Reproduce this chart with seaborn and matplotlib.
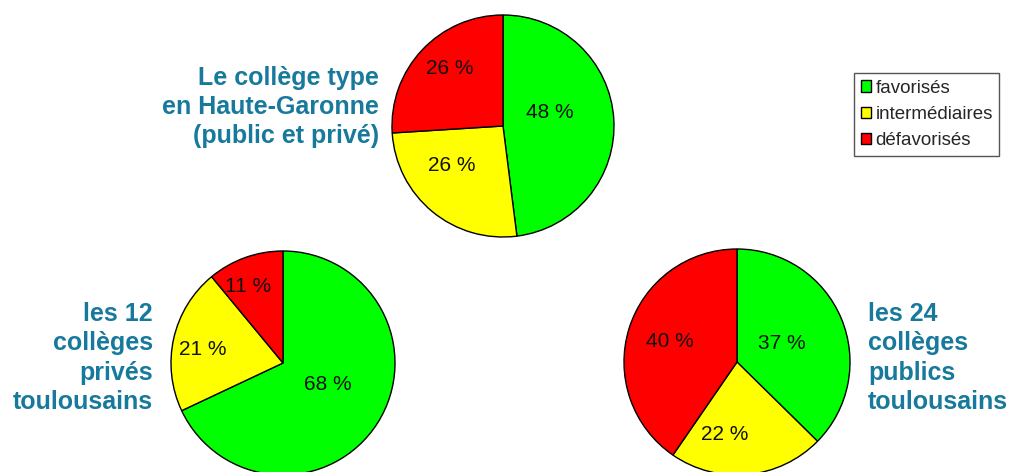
import numpy as np
import matplotlib
matplotlib.use("Agg")
import matplotlib.pyplot as plt
import seaborn as sns
from matplotlib.patches import Patch

# ====== DATA ======
categories = ["favorisés", "intermédiaires", "défavorisés"]
haute_garonne = [48, 26, 26]
prives_toulouse = [68, 21, 11]
publics_toulouse = [37, 22, 40]

title_haute_garonne = "Le collège type\nen Haute-Garonne\n(public et privé)"
title_prives = "les 12\ncollèges\nprivés\ntoulousains"
title_publics = "les 24\ncollèges\npublics\ntoulousains"

colors = ["#00ff00", "#ffff00", "#ff0000"]
title_color = "#17799b"

W, H = 1012, 472

sns.set_theme(style="white")
plt.rcParams['font.family'] = ['Liberation Sans', 'DejaVu Sans']

fig = plt.figure(figsize=(W / 100, H / 100), dpi=100)
ax = fig.add_axes([0, 0, 1, 1])

# pies: values, centre (pixels, y from top), radius,
# label distance per slice, label angle nudge per slice (degrees)
pies = [
    (haute_garonne, (503, 126), 111, [0.44, 0.585, 0.70], [13, -13, -4]),
    (prives_toulouse, (283, 363), 112, [0.44, 0.73, 0.75], [7, 3, 5]),
    (publics_toulouse, (737, 362), 113, [0.43, 0.65, 0.62], [0, -15, 0]),
]

for values, (cx, cy), r, dists, nudges in pies:
    wedges, _ = ax.pie(values, colors=colors, startangle=90, counterclock=False,
                       center=(cx, H - cy), radius=r, frame=True,
                       wedgeprops=dict(edgecolor="black", linewidth=1))
    for w, v, d, n in zip(wedges, values, dists, nudges):
        ang = np.deg2rad((w.theta1 + w.theta2) / 2 + n)
        ax.text(cx + d * r * np.cos(ang), H - cy + d * r * np.sin(ang), f"{v} %",
                ha="center", va="center", fontsize=15, color="#111111")

ax.set_xlim(0, W)
ax.set_ylim(0, H)
ax.set_axis_off()

# titles
title_kw = dict(fontsize=18, fontweight="bold", color=title_color, linespacing=1.27)
ax.text(379, H - 107, title_haute_garonne, ha="right", va="center", **title_kw)
ax.text(153, H - 358, title_prives, ha="right", va="center", **title_kw)
ax.text(868, H - 358, title_publics, ha="left", va="center", **title_kw)

# legend
handles = [Patch(facecolor=c, edgecolor="black", linewidth=1, label=l)
           for c, l in zip(colors, categories)]
leg = ax.legend(handles=handles, loc="upper left",
                bbox_to_anchor=(854 / W, 1 - 73 / H), bbox_transform=fig.transFigure,
                frameon=True, fancybox=False, framealpha=1, edgecolor="#555555",
                fontsize=13.5, handlelength=0.55, handleheight=0.55, handletextpad=0.25,
                borderpad=0.35, labelspacing=0.5, borderaxespad=0)
leg.get_frame().set_linewidth(1)

fig.savefig("out.png", dpi=100, facecolor="white")
